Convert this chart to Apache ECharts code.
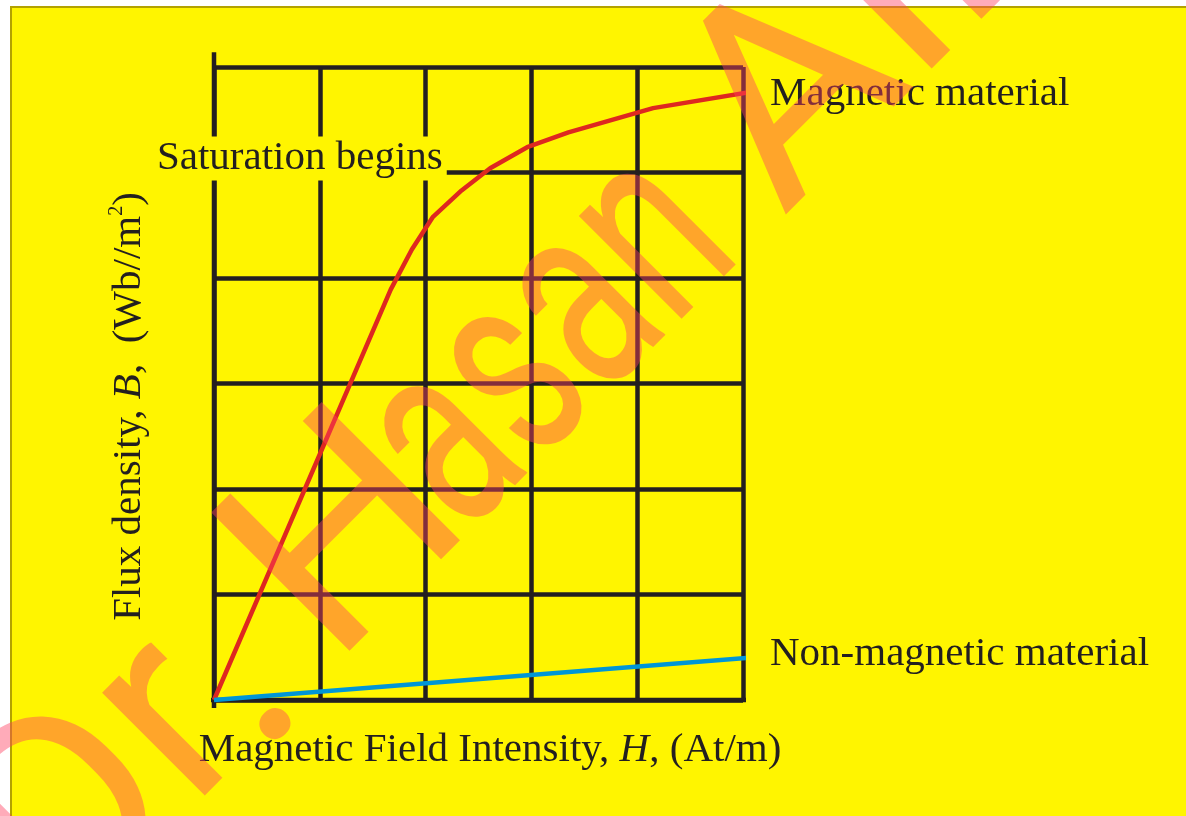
<!DOCTYPE html>
<html>
<head>
<meta charset="utf-8">
<title>B–H curve</title>
<script src="https://cdn.jsdelivr.net/npm/echarts/dist/echarts.min.js"></script>
<style>
  html, body { margin: 0; padding: 0; background: #ffffff; }
  #chart { width: 1186px; height: 816px; }
</style>
</head>
<body>
<div id="chart"></div>
<script>
// Magnetisation (B–H) curve of a magnetic material versus a non-magnetic one.
// Axis units are grid divisions: 5 along H, 6 along B.
const fieldMagnetic    = [0, 1.67, 1.87, 2.07, 2.34, 2.61, 2.96, 3.35, 4.15, 5.05];
const fluxMagnetic     = [0, 3.89, 4.27, 4.58, 4.83, 5.04, 5.24, 5.38, 5.61, 5.76];
const fieldNonMagnetic = [0, 5.05];
const fluxNonMagnetic  = [0, 0.40];
const seriesNames = ['Magnetic material', 'Non-magnetic material'];

// Annotation pointing at the knee of the curve (along the B = 5 grid line)
const noteText  = 'Saturation begins';
const noteField = 2.2;
const noteFlux  = 5;

// Axis ranges (grid divisions) and the overshoot of the two main axis lines
const fieldRange = [0, 5];
const fluxRange  = [0, 6];
const fieldAxisExtent = [-0.13, 5.18];
const fluxAxisExtent  = [-0.075, 6.14];

const INK = '#231F20';
const PAPER = '#FFF500';
const SERIF = '"Liberation Serif", "Times New Roman", serif';
const FS = 41;
const LW = 4.5;

const chart = echarts.init(document.getElementById('chart'), null, { renderer: 'canvas' });

function pairs(xs, ys) { return xs.map((x, i) => [x, ys[i]]); }

// Faint diagonal name stamp laid over the figure
const stampColor = 'rgba(255, 63, 95, 0.44)';
const stampSize = 275;
const stampBaseline = 1036;           // the stamp baseline runs along x + y = const
const stampPieces = [
  { text: 'Dr',   along: -617,   lift: 0,   sx: 1.0  },
  { text: '.',    along: -352,   lift: -12, sx: 1.0  },
  { text: 'H',    along: -236.6, lift: 0,   sx: 1.04 },
  { text: 'asan', along: -51.6,  lift: 0,   sx: 0.67 },
  { text: 'Ali',  along: 400,    lift: 0,   sx: 1.05 }
];
const stampElements = stampPieces.map(p => {
  const base = stampBaseline - p.lift * Math.SQRT2;
  return {
    type: 'text',
    x: (base + p.along * Math.SQRT2) / 2,
    y: (base - p.along * Math.SQRT2) / 2,
    rotation: Math.PI / 4,
    scaleX: p.sx,
    z: 100,
    silent: true,
    style: {
      text: p.text,
      x: 0,
      y: -0.342 * stampSize,
      font: '400 ' + stampSize + 'px Roboto, "Liberation Sans", sans-serif',
      fill: stampColor,
      align: 'left',
      verticalAlign: 'middle'
    }
  };
});

const option = {
  animation: false,
  backgroundColor: '#ffffff',
  grid: {
    left: 214, top: 67, right: 443, bottom: 116,
    containLabel: false,
    outerBoundsMode: 'none'
  },
  graphic: [
    {
      type: 'rect',
      z: -10,
      silent: true,
      shape: { x: 11, y: 7, width: 1200, height: 830 },
      style: { fill: PAPER, stroke: '#B3A200', lineWidth: 2 }
    }
  ].concat(stampElements),
  xAxis: {
    type: 'value',
    min: fieldRange[0], max: fieldRange[1], interval: 1,
    axisLine: { show: false },
    axisTick: { show: false },
    axisLabel: { show: false },
    splitLine: { show: true, lineStyle: { color: INK, width: LW } },
    name: 'Magnetic Field Intensity, {i|H}, (At/m)',
    nameLocation: 'middle',
    nameGap: 28,
    nameTextStyle: {
      color: INK, fontFamily: SERIF, fontSize: FS, lineHeight: 44,
      padding: [0, 0, 0, 23],
      rich: {
        i: { color: INK, fontFamily: SERIF, fontSize: FS, lineHeight: 44, fontStyle: 'italic' }
      }
    }
  },
  yAxis: {
    type: 'value',
    min: fluxRange[0], max: fluxRange[1], interval: 1,
    axisLine: { show: false },
    axisTick: { show: false },
    axisLabel: { show: false },
    splitLine: { show: true, lineStyle: { color: INK, width: LW } },
    name: 'Flux density, {i|B},  (Wb//m{sup|2})',
    nameLocation: 'middle',
    nameRotate: 90,
    nameGap: 63,
    nameTextStyle: {
      color: INK, fontFamily: SERIF, fontSize: FS, lineHeight: 44,
      padding: [0, 46, 0, 0],
      rich: {
        i:   { color: INK, fontFamily: SERIF, fontSize: FS, lineHeight: 44, fontStyle: 'italic' },
        sup: { color: INK, fontFamily: SERIF, fontSize: 20, lineHeight: 20, verticalAlign: 'top' }
      }
    }
  },
  series: [
    {
      // main horizontal axis line, running past the grid on both sides
      type: 'line',
      data: fieldAxisExtent.map(x => [x, 0]),
      symbol: 'none', clip: false, silent: true, z: 1,
      lineStyle: { color: INK, width: LW }
    },
    {
      // main vertical axis line
      type: 'line',
      data: fluxAxisExtent.map(y => [0, y]),
      symbol: 'none', clip: false, silent: true, z: 1,
      lineStyle: { color: INK, width: LW }
    },
    {
      name: seriesNames[0],
      type: 'line',
      data: pairs(fieldMagnetic, fluxMagnetic),
      symbol: 'none', showSymbol: false, clip: false, silent: true, z: 3,
      lineStyle: { color: '#DE2820', width: LW },
      itemStyle: { color: '#DE2820' },
      endLabel: {
        show: true, formatter: '{a}', distance: 24, offset: [0, 2],
        color: INK, fontFamily: SERIF, fontSize: FS
      }
    },
    {
      name: seriesNames[1],
      type: 'line',
      data: pairs(fieldNonMagnetic, fluxNonMagnetic),
      symbol: 'none', showSymbol: false, clip: false, silent: true, z: 4,
      lineStyle: { color: '#0096D6', width: LW },
      itemStyle: { color: '#0096D6' },
      endLabel: {
        show: true, formatter: '{a}', distance: 24, offset: [0, -4],
        color: INK, fontFamily: SERIF, fontSize: FS
      }
    },
    {
      type: 'scatter',
      data: [[noteField, noteFlux]],
      symbolSize: 0, silent: true, clip: false, z: 5,
      itemStyle: { opacity: 1 },
      label: {
        show: true, position: 'left', distance: 0, offset: [0, -14],
        formatter: noteText, opacity: 1,
        color: INK, fontFamily: SERIF, fontSize: FS, lineHeight: 44,
        backgroundColor: PAPER, padding: [0, 4, 0, 4]
      }
    }
  ]
};

chart.setOption(option);
</script>
</body>
</html>
